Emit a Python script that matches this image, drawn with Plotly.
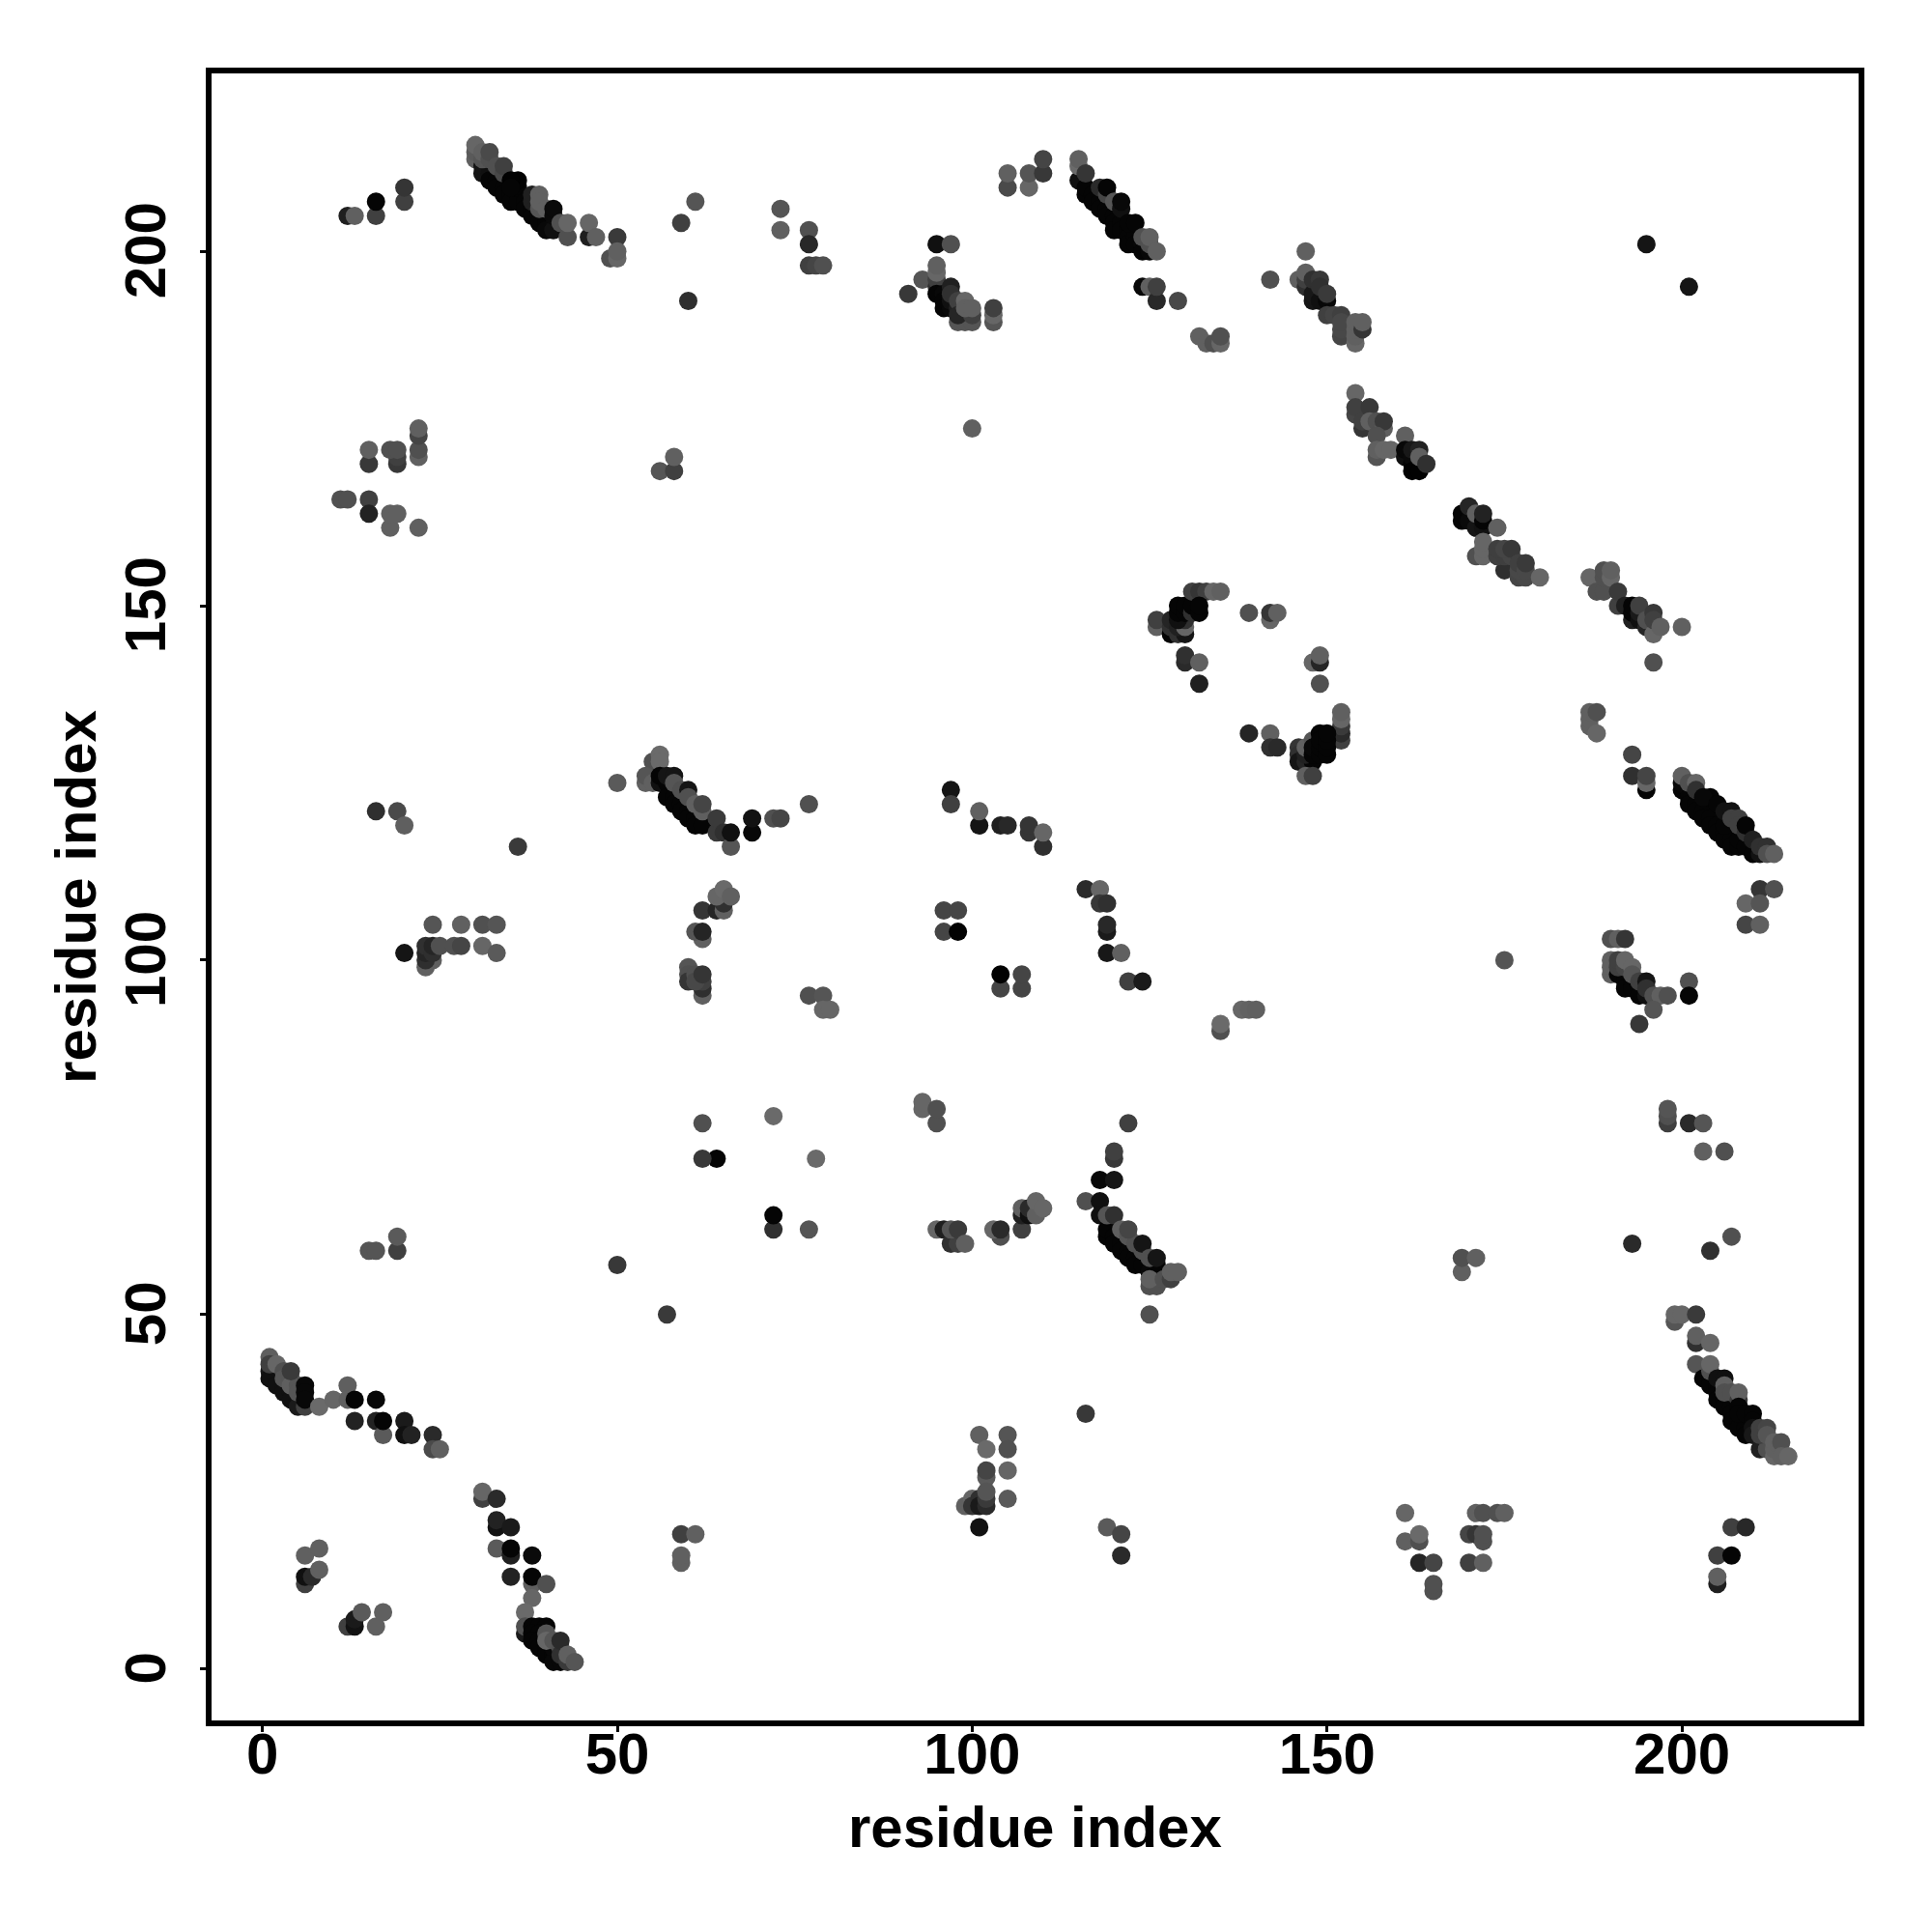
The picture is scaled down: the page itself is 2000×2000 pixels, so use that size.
import plotly.graph_objects as go

# (residue i, residue j, grey shade 0-255), in drawing order
helix_a = [(1,42,0x18),(1,41,0x10),(2,41,0x10),(2,40,0x10),(3,40,0x10),(3,39,0x10),(4,39,0x10),(4,38,0x10),(5,38,0x10),(5,37,0x1a),
 (6,37,0x40),(1,44,0x5f),(1,43,0x40),(2,43,0x66),(3,42,0x4f),(3,41,0x55),(4,41,0x55),(4,40,0x5f),(5,40,0x55),(5,39,0x55),(4,42,0x3a),
 (6,40,0x08),(6,39,0x08),(6,38,0x08),(8,37,0x6a),(10,38,0x66),(12,40,0x5f),(12,38,0x60),(13,38,0x05),(16,38,0x08),
 (13,35,0x22),(16,35,0x22),(17,33,0x5a),(17,35,0x05),(20,35,0x1a),(20,33,0x10),(21,33,0x22),(24,33,0x2a),(24,31,0x4a),(25,31,0x60)]
helix_b = [(31,24,0x40),(31,25,0x66),(33,24,0x2a),(33,20,0x12),(33,21,0x22),(35,20,0x1a),(33,17,0x5a),(35,16,0x1f),(35,17,0x05),
 (38,16,0x0a),(35,13,0x22),(38,12,0x5f),(38,13,0x05),(40,12,0x50),(38,10,0x66),(37,8,0x6a),(37,5,0x1a),(37,6,0x50),
 (38,6,0x05),(39,6,0x05),(40,6,0x05),(38,5,0x05),(39,5,0x05),(38,4,0x05),(39,4,0x05),(39,3,0x05),(40,3,0x05),(40,2,0x05),(41,2,0x05),(41,1,0x08),(42,1,0x08),
 (41,3,0x08),(40,5,0x55),(40,4,0x66),(41,4,0x55),(42,3,0x50),(42,2,0x30),(43,1,0x3a),(42,4,0x2a),(43,2,0x60),(44,1,0x55)]
small_low_left = [(6,16,0x60),(8,17,0x60),(6,12,0x40),(6,13,0x10),(7,13,0x2a),(8,14,0x60),
 (12,6,0x40),(13,6,0x12),(13,7,0x1a),(14,8,0x5a),(16,6,0x60),(17,8,0x60),
 (59,19,0x40),(61,19,0x60),(59,15,0x60),(59,16,0x60),(57,50,0x3a)]
low_mid = [(72,78,0x6a),(64,72,0x05),(62,72,0x38),(62,77,0x50),(78,72,0x6a),(72,62,0x30),(72,64,0x05),(77,62,0x55),
 (93,79,0x66),(93,80,0x66),(95,77,0x50),(95,79,0x50),
 (95,62,0x66),(96,62,0x1f),(97,60,0x30),(98,60,0x40),(97,62,0x55),(98,62,0x3a),(99,60,0x5f),
 (104,61,0x50),(103,62,0x66),(104,62,0x2a),(107,62,0x40),(107,64,0x20),(107,65,0x60),(108,64,0x10),(108,65,0x2a),(109,64,0x60),(109,66,0x66),(110,65,0x66),
 (50,57,0x38),(15,59,0x55),(16,59,0x55),(19,59,0x40),(19,61,0x5a),
 (122,77,0x40),(120,72,0x38),(120,73,0x40),(118,69,0x08),(120,69,0x15),(116,66,0x50),(118,66,0x10),
 (118,64,0x10),(119,61,0x05),(119,62,0x05),(120,61,0x05),(120,60,0x05),(121,60,0x05),(121,59,0x05),(122,59,0x05),(122,58,0x05),(123,58,0x05),(123,57,0x05),(124,57,0x05),(125,56,0x08),(126,57,0x05),
 (119,64,0x55),(120,64,0x30),(121,62,0x5f),(122,61,0x55),(123,60,0x50),(122,62,0x45),(124,59,0x50),(124,60,0x15),(125,58,0x50),(126,58,0x15),
 (125,54,0x50),(126,54,0x50),(125,55,0x60),(127,55,0x50),(128,55,0x40),(128,56,0x60),(129,56,0x60),(125,50,0x50)]
low_bottom = [(101,33,0x60),(105,33,0x55),(102,31,0x6a),(105,31,0x50),(102,27,0x5a),(102,28,0x45),(105,28,0x66),(105,24,0x5a),
 (99,23,0x60),(100,24,0x66),(100,23,0x35),(101,24,0x30),(101,23,0x1a),(102,23,0x2a),(102,24,0x3a),(102,25,0x55),(101,20,0x12),
 (116,36,0x38),(119,20,0x5a),(121,19,0x45),(121,16,0x2a)]
low_right = [(161,22,0x66),(161,18,0x60),(163,18,0x50),(163,19,0x6a),(163,15,0x25),(165,15,0x45),(165,11,0x50),(165,12,0x50),
 (171,22,0x60),(172,22,0x50),(174,22,0x50),(175,22,0x60),(170,19,0x45),(171,19,0x35),(172,18,0x50),(172,19,0x50),(170,15,0x40),(172,15,0x60),
 (207,20,0x40),(209,20,0x28),(205,16,0x40),(207,16,0x05),(205,12,0x1f),(205,13,0x60),
 (169,56,0x60),(169,58,0x50),(171,58,0x60),(193,60,0x2a),(204,59,0x30),(207,61,0x50)]
helix_c = [(199,49,0x55),(199,50,0x66),(200,50,0x66),(202,50,0x3a),(202,46,0x30),(202,47,0x60),(204,46,0x66),(202,43,0x55),
 (203,41,0x05),(204,41,0x05),(204,40,0x05),(205,40,0x05),(205,39,0x05),(205,38,0x05),(206,38,0x05),(206,37,0x05),(207,37,0x05),(207,36,0x05),(207,35,0x05),(208,35,0x05),(208,34,0x05),(209,34,0x05),(209,33,0x05),
 (204,42,0x50),(204,43,0x66),(205,41,0x10),(206,41,0x10),(206,40,0x60),(206,39,0x50),(207,39,0x50),(208,38,0x3a),(208,39,0x60),
 (208,37,0x05),(208,36,0x05),(209,36,0x05),(210,36,0x05),(210,35,0x05),(210,34,0x10),(210,33,0x18),
 (211,31,0x20),(212,31,0x50),(211,33,0x40),(211,34,0x40),(212,34,0x45),(212,33,0x55),(213,30,0x66),(213,31,0x60),(213,32,0x60),(214,32,0x50),(214,30,0x60),(215,30,0x66)]
mid_left = [(16,121,0x2f),(19,121,0x4a),(20,119,0x5f),(36,116,0x3a),(50,125,0x5a),
 (24,105,0x55),(28,105,0x60),(31,105,0x50),(33,105,0x55),(20,101,0x15),
 (23,99,0x60),(24,100,0x60),(23,100,0x2f),(23,101,0x25),(23,102,0x30),(24,101,0x2f),(24,102,0x25),(25,102,0x50),(27,102,0x50),(28,102,0x45),(31,102,0x66),(33,101,0x5a)]
helix_d = [(55,128,0x50),(56,129,0x6a),(56,128,0x6a),(54,125,0x60),(54,126,0x55),(55,125,0x60),(56,125,0x10),(56,126,0x05),(57,125,0x05),(57,123,0x05),(58,123,0x05),(58,122,0x05),(59,122,0x05),(59,121,0x05),(60,121,0x05),(60,120,0x05),(61,120,0x05),(61,119,0x05),(62,119,0x05),
 (57,126,0x15),(58,126,0x15),(58,125,0x55),(59,124,0x50),(60,124,0x15),(60,123,0x50),(61,122,0x60),(62,121,0x5f),(62,122,0x45),(64,118,0x3a),(64,120,0x3a),(65,118,0x30),(66,116,0x55),(66,118,0x10),
 (69,118,0x08),(69,120,0x12),(72,120,0x50),(73,120,0x45),(77,122,0x50)]
mid_left_b = [(62,103,0x60),(61,104,0x55),(62,104,0x25),(62,107,0x35),(64,107,0x25),(65,107,0x60),(65,108,0x30),(64,109,0x66),(65,110,0x6a),(66,109,0x60),
 (62,95,0x60),(62,96,0x2f),(62,97,0x40),(60,99,0x55),(60,98,0x50),(60,97,0x35),(61,98,0x50),(61,97,0x48),(62,98,0x35),
 (77,95,0x50),(79,95,0x55),(79,93,0x66),(80,93,0x66)]
mid_centre = [(97,124,0x15),(97,122,0x40),(101,119,0x15),(101,121,0x60),(104,119,0x20),(105,119,0x28),(108,118,0x35),(108,119,0x35),(110,116,0x2f),(110,118,0x66),
 (96,107,0x45),(98,107,0x45),(96,104,0x45),(98,104,0x02),(104,96,0x45),(104,98,0x02),(107,96,0x45),(107,98,0x45),
 (116,110,0x2a),(118,110,0x66),(118,108,0x38),(119,108,0x30),(119,104,0x1a),(119,105,0x28),(119,101,0x18),(121,101,0x60),(122,97,0x40),(124,97,0x1a),
 (135,90,0x50),(135,91,0x6a),(138,93,0x66),(139,93,0x62),(140,93,0x60),(175,100,0x55)]
loop_a = [(126,147,0x60),(126,148,0x40),(128,146,0x05),(128,147,0x30),(128,148,0x25),(129,146,0x30),(130,146,0x15),(129,147,0x20),(130,147,0x66),(130,148,0x30),(129,148,0x10),(129,149,0x05),(129,150,0x05),(130,149,0x05),(130,150,0x05),(131,149,0x30),(131,150,0x05),
 (131,152,0x40),(132,152,0x35),(133,152,0x40),(134,152,0x66),(135,152,0x60),(132,149,0x05),(132,150,0x05),
 (130,142,0x2a),(130,143,0x30),(132,142,0x60),(132,139,0x20),
 (139,149,0x50),(142,148,0x66),(142,149,0x35),(143,149,0x60),(148,142,0x66),(149,142,0x25),(149,143,0x60),(149,139,0x50)]
loop_b = [(139,132,0x25),(142,132,0x60),(142,130,0x30),(143,130,0x2a),(152,131,0x40),(152,132,0x2a),(152,133,0x3a),(152,134,0x66),(152,135,0x60),
 (146,130,0x35),(146,129,0x30),(146,128,0x15),(147,128,0x25),(148,128,0x05),(147,129,0x20),(147,130,0x60),(147,126,0x60),(148,126,0x40),(148,131,0x55),(148,129,0x05),(148,130,0x08),
 (149,129,0x05),(149,130,0x05),(149,132,0x05),(149,131,0x05),(150,129,0x05),(150,130,0x05),(150,131,0x05),(150,132,0x05)]
helix_e = [(187,133,0x60),(187,134,0x60),(187,135,0x60),(188,135,0x50),(188,132,0x66),(193,129,0x45),(193,126,0x30),(195,124,0x05),(195,125,0x66),(195,126,0x45),
 (200,124,0x05),(200,125,0x08),(201,124,0x08),(201,123,0x05),(201,122,0x05),(202,122,0x05),(202,121,0x05),(203,121,0x05),(203,120,0x05),(204,120,0x05),(204,119,0x05),(205,119,0x05),(205,118,0x05),(206,118,0x05),(206,117,0x05),(207,117,0x05),(207,116,0x05),(208,116,0x05),(208,117,0x05),(209,116,0x05),(210,115,0x05),(211,115,0x12),
 (200,126,0x60),(201,125,0x50),(202,125,0x66),(202,124,0x30),(204,123,0x05),(203,123,0x08),(205,122,0x05),(206,119,0x05),(206,121,0x12),(207,121,0x12),(207,120,0x40),(208,120,0x40),(208,119,0x40),(209,118,0x30),(209,119,0x05),(210,117,0x20),
 (211,116,0x30),(212,116,0x30),(212,115,0x50),(213,115,0x60),
 (211,110,0x35),(213,110,0x50),(209,108,0x66),(211,108,0x55),(209,105,0x45),(211,105,0x60)]
helix_f = [(190,98,0x60),(190,99,0x60),(190,100,0x60),(190,103,0x50),(191,103,0x60),(192,103,0x35),(191,98,0x05),(192,97,0x05),(192,96,0x05),(193,97,0x05),(193,96,0x05),(194,96,0x05),(194,95,0x05),(195,95,0x10),
 (191,99,0x40),(191,100,0x40),(192,99,0x45),(192,100,0x66),(193,99,0x66),(193,98,0x55),(194,97,0x40),(195,97,0x15),(195,96,0x30),(196,95,0x50),(197,95,0x60),(198,95,0x50),(196,93,0x55),(194,91,0x38),
 (201,97,0x50),(201,95,0x05),
 (198,77,0x3f),(198,78,0x50),(198,79,0x55),(201,77,0x2a),(203,77,0x55),(203,73,0x60),(206,73,0x50)]
top_left = [(12,205,0x1f),(13,205,0x60),(16,205,0x40),(16,207,0x05),(20,207,0x40),(20,209,0x35),
 (30,213,0x60),(30,214,0x5a),(30,215,0x66),(31,211,0x15),(31,212,0x15),(32,211,0x10),(32,210,0x05),(33,210,0x05),(33,209,0x05),(34,209,0x05),(34,208,0x05),(35,208,0x05),(35,207,0x05),(36,208,0x05),(36,207,0x05),(36,209,0x05),(37,207,0x05),(37,206,0x05),(38,206,0x05),(38,205,0x05),(39,205,0x05),(39,204,0x05),(40,204,0x05),(40,203,0x08),(41,203,0x10),
 (31,213,0x55),(31,214,0x60),(32,213,0x50),(32,214,0x4a),(33,212,0x50),(34,211,0x48),(34,212,0x40),(36,210,0x02),(35,210,0x02),(35,209,0x05),(38,207,0x20),(38,208,0x20),(39,206,0x55),(39,208,0x60),(39,207,0x60),(40,206,0x60),(41,205,0x0a),(41,206,0x0a),
 (42,204,0x50),(43,202,0x50),(43,204,0x66),(46,202,0x1f),(46,204,0x66),(47,202,0x60),(50,202,0x3a),(49,199,0x50),(50,199,0x66),(50,200,0x60),
 (59,204,0x3f),(61,207,0x55),(60,193,0x2f),(73,206,0x55),(73,203,0x60),(77,203,0x50),(77,201,0x28),(77,198,0x40),(78,198,0x45),(79,198,0x50)]
upper_left = [(22,171,0x60),(22,172,0x50),(22,174,0x45),(22,175,0x60),(15,170,0x38),(15,172,0x60),(19,170,0x38),(19,171,0x40),(18,172,0x50),(19,172,0x50),
 (11,165,0x50),(12,165,0x50),(15,165,0x40),(15,163,0x22),(18,161,0x60),(18,163,0x60),(19,163,0x60),(22,161,0x60),
 (56,169,0x55),(58,169,0x40),(58,171,0x60),(100,175,0x60)]
top_mid = [(105,209,0x4a),(105,211,0x60),(108,209,0x66),(108,211,0x55),(110,211,0x38),(110,213,0x45),
 (95,201,0x10),(97,201,0x50),(91,194,0x38),(93,196,0x55),(95,195,0x30),(95,196,0x40),(95,197,0x66),(95,198,0x60),
 (95,194,0x05),(96,194,0x08),(96,193,0x05),(96,192,0x05),(97,192,0x08),(97,193,0x10),(98,192,0x20),(97,195,0x20),(97,194,0x30),(98,193,0x40),(99,193,0x66),
 (98,190,0x55),(99,190,0x55),(100,190,0x55),(98,191,0x25),(100,191,0x40),(99,192,0x60),(100,192,0x60),(103,190,0x55),(103,191,0x66),(103,192,0x40),
 (115,210,0x10),(115,212,0x6a),(115,213,0x60),(116,208,0x05),(116,209,0x05),(117,208,0x05),(117,207,0x05),(118,207,0x05),(118,206,0x05),(119,206,0x05),(119,205,0x05),(120,205,0x05),(120,204,0x05),(120,203,0x05),(121,204,0x05),(121,203,0x05),(122,203,0x05),(122,202,0x05),(122,201,0x05),(123,202,0x05),(123,201,0x05),(124,201,0x08),(124,200,0x05),(125,200,0x08),
 (116,211,0x35),(118,209,0x2a),(119,208,0x45),(119,209,0x05),(120,207,0x55),(121,206,0x10),(121,207,0x08),(122,204,0x05),(123,204,0x05),
 (124,202,0x50),(125,201,0x50),(125,202,0x60),(126,200,0x60),
 (124,195,0x08),(125,195,0x60),(126,193,0x28),(126,195,0x40),(129,193,0x48),
 (132,188,0x60),(133,187,0x60),(134,187,0x50),(135,187,0x66),(135,188,0x50)]
helix_g = [(142,196,0x50),(147,200,0x60),(146,196,0x60),(147,195,0x30),(147,196,0x40),(147,197,0x60),(148,193,0x15),(148,194,0x18),(149,193,0x10),(148,196,0x30),(149,196,0x38),(149,195,0x30),(150,193,0x08),(150,194,0x3a),
 (150,191,0x40),(151,191,0x45),(152,191,0x40),(152,188,0x45),(152,189,0x48),(152,190,0x48),(154,187,0x66),(154,188,0x60),(154,189,0x60),(154,190,0x60),(155,189,0x35),(155,190,0x60),(195,201,0x15),(201,195,0x15)]
helix_h = [(154,180,0x66),(154,177,0x45),(154,178,0x40),(155,175,0x35),(155,176,0x40),(156,178,0x38),(156,176,0x60),(157,176,0x50),(158,175,0x60),(158,176,0x38),(157,174,0x50),(157,171,0x55),(157,172,0x60),(158,172,0x66),(159,172,0x66),
 (161,174,0x60),(161,171,0x10),(161,172,0x08),(162,170,0x05),(162,171,0x0a),(162,169,0x02),(163,169,0x02),(162,172,0x18),(163,172,0x22),(163,171,0x60),(164,170,0x30)]
helix_i = [(169,162,0x05),(169,163,0x05),(170,162,0x0a),(170,164,0x25),(171,161,0x15),(171,163,0x60),(172,161,0x12),(172,162,0x05),(172,163,0x22),(174,161,0x60),
 (171,157,0x50),(172,157,0x66),(172,158,0x66),(172,159,0x66),(175,155,0x2f),(174,157,0x40),(175,157,0x3f),(176,157,0x45),(174,158,0x3f),(175,158,0x45),(176,158,0x38),
 (177,154,0x45),(178,154,0x48),(177,155,0x48),(177,156,0x40),(178,155,0x48),(178,156,0x3a),(180,154,0x66)]
helix_j = [(187,154,0x66),(188,152,0x50),(189,152,0x50),(189,154,0x50),(189,155,0x50),(190,154,0x66),(190,155,0x60),(191,150,0x40),(191,152,0x3a),(192,150,0x20),
 (193,148,0x20),(193,149,0x05),(193,150,0x05),(194,148,0x10),(194,149,0x1a),(194,150,0x40),(195,147,0x25),(195,148,0x50),(196,146,0x66),(196,149,0x38),(196,148,0x40),(197,147,0x60),(200,147,0x60),(196,142,0x50)]

groups = [helix_a, helix_b, small_low_left, low_mid, low_bottom, low_right, helix_c, mid_left, helix_d, mid_left_b,
          mid_centre, loop_a, loop_b, helix_e, helix_f, top_left, upper_left, top_mid, helix_g, helix_h, helix_i, helix_j]
points = [p for g in groups for p in g]
res_i = [p[0] for p in points]
res_j = [p[1] for p in points]
shade = [p[2] for p in points]

tick_values = [0, 50, 100, 150, 200]
font = "Liberation Sans"

fig = go.Figure(go.Scatter(
    x=res_i, y=res_j, mode="markers",
    marker=dict(size=19, color=[f"rgb({s},{s},{s})" for s in shade], line=dict(width=0), opacity=1),
    hoverinfo="skip"))

axis = dict(tickvals=tick_values, ticks="outside", ticklen=6, tickwidth=3, tickcolor="black",
            showline=True, linecolor="black", linewidth=6, mirror=True, showgrid=False, zeroline=False,
            tickfont=dict(family=font, size=60, color="black", weight="bold"))
fig.update_layout(
    width=2000, height=2000, autosize=False, showlegend=False,
    paper_bgcolor="white", plot_bgcolor="white",
    margin=dict(l=211, r=84, t=68, b=227),
    xaxis=dict(axis, range=[-7.17, 224.9], ticklabelstandoff=-29),
    yaxis=dict(axis, range=[-7.26, 225.1], tickangle=-90, ticklabelstandoff=12, ticklabelshift=8,
               title=dict(text="<b>residue index</b>", standoff=0, font=dict(family=font, size=60, color="black"))),
    annotations=[dict(text="<b>residue index</b>", xref="paper", yref="paper", x=0.5, y=0, yanchor="middle",
                      yshift=-110, showarrow=False, font=dict(family=font, size=60, color="black"))],
)
fig.write_html("out.html")
